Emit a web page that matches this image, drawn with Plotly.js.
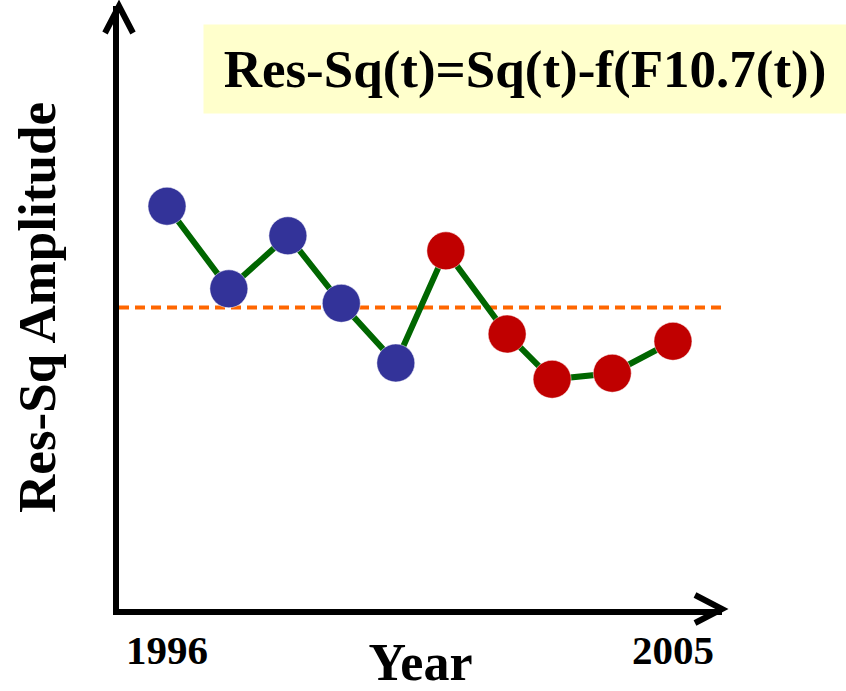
<!DOCTYPE html>
<html>
<head>
<meta charset="utf-8">
<script src="https://cdn.plot.ly/plotly-3.0.1.min.js"></script>
<style>html,body{margin:0;padding:0;background:#fff}#chart{width:846px;height:691px}</style>
</head>
<body>
<div id="chart"></div>
<script>
// Data (arbitrary amplitude units, x-axis = 0)
const years = [1996, 1997.1, 1998.15, 1999.1, 2000.07, 2000.96, 2002.05, 2002.85, 2003.92, 2005];
const resSq = [6.68, 5.31, 6.19, 5.07, 4.08, 5.94, 4.56, 3.81, 3.91, 4.44];
const phase = ['early', 'early', 'early', 'early', 'early', 'late', 'late', 'late', 'late', 'late'];
const refLevel = [5.0];
const tickYears = [1996, 2005];
const tickLabels = ['1996', '2005'];

const phaseColors = {early: '#333399', late: '#c00000'};
const serif = 'Liberation Serif, Times New Roman, serif';

const traces = [
  {x: years, y: resSq, mode: 'lines', line: {color: '#006600', width: 6}, hoverinfo: 'skip'},
  {x: years, y: resSq, mode: 'markers',
   marker: {size: 38, color: phase.map(p => phaseColors[p]), line: {width: 1, color: 'rgba(255,255,255,0.5)'}}}
];

const layout = {
  width: 846, height: 691,
  margin: {l: 119, r: 124, t: 6, b: 82, pad: 0},
  showlegend: false,
  paper_bgcolor: '#ffffff', plot_bgcolor: '#ffffff',
  xaxis: {
    range: [1995.146, 2005.872], showgrid: false, zeroline: false,
    showline: true, linewidth: 6, linecolor: '#000',
    tickmode: 'array', tickvals: tickYears, ticktext: tickLabels, ticks: '',
    tickfont: {family: serif, size: 41, color: '#000', weight: 'bold'},
    title: {text: 'Year', font: {family: serif, size: 52, color: '#000', weight: 'bold'}, standoff: 2}
  },
  yaxis: {
    range: [0, 10], showgrid: false, zeroline: false,
    showline: true, linewidth: 6, linecolor: '#000',
    showticklabels: false, ticks: '',
    title: {text: 'Res-Sq Amplitude', font: {family: serif, size: 53, color: '#000', weight: 'bold'}, standoff: 42}
  },
  shapes: [
    {type: 'line', xref: 'paper', x0: 0, x1: 1, yref: 'y', y0: refLevel[0], y1: refLevel[0],
     line: {color: '#ff6600', width: 4, dash: '10px,6px'}, layer: 'below'},
    {type: 'path', xref: 'paper', yref: 'paper', xsizemode: 'pixel', ysizemode: 'pixel',
     xanchor: 1, yanchor: 0, path: 'M-27,14 L0,0 L-27,-14', line: {color: '#000', width: 6}},
    {type: 'path', xref: 'paper', yref: 'paper', xsizemode: 'pixel', ysizemode: 'pixel',
     xanchor: 0, yanchor: 1, path: 'M-14,-27 L0,0 L14,-27', line: {color: '#000', width: 6}}
  ],
  annotations: [
    {xref: 'paper', yref: 'paper', x: 0.673, y: 0.8955, xanchor: 'center', yanchor: 'middle',
     text: 'Res-Sq(t)=Sq(t)-f(F10.7(t))', showarrow: false,
     font: {family: serif, size: 53, color: '#000', weight: 'bold'},
     bgcolor: '#ffffcc', width: 642, height: 88, borderpad: 0}
  ]
};

Plotly.newPlot('chart', traces, layout, {displayModeBar: false, staticPlot: true});
</script>
</body>
</html>
